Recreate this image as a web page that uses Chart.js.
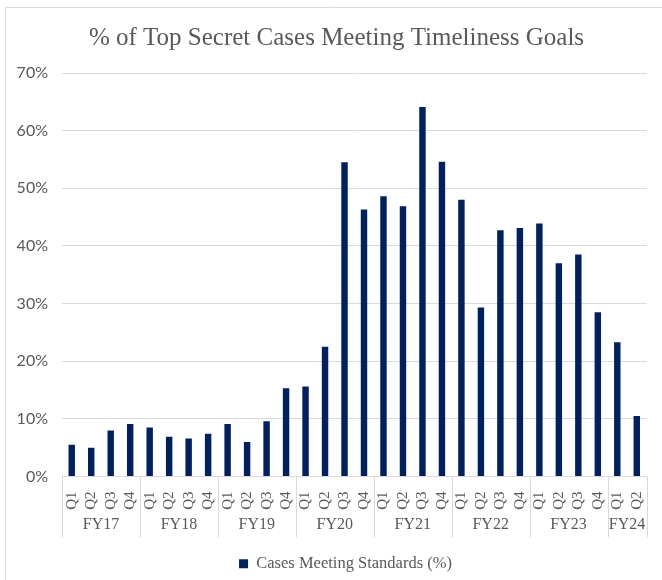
<!DOCTYPE html>
<html><head><meta charset="utf-8">
<script src="https://cdn.jsdelivr.net/npm/chart.js@4.4.1/dist/chart.umd.min.js"></script>
<style>html,body{margin:0;padding:0;background:#fff;} #wrap{position:relative;width:662px;height:580px;}</style>
</head><body><div id="wrap"><canvas id="c" width="662" height="580"></canvas></div>
<script>
const fiscalYears = ['FY17','FY18','FY19','FY20','FY21','FY22','FY23','FY24'];
const quartersPerYear = [4,4,4,4,4,4,4,2];
const quarterNames = ['Q1','Q2','Q3','Q4'];
const values = [5.5,5.0,8.0,9.1, 8.5,6.9,6.6,7.4, 9.1,6.0,9.6,15.3, 15.6,22.5,54.5,46.3,
                48.6,46.9,64.1,54.6, 48.0,29.3,42.7,43.1, 43.9,37.0,38.5,28.5, 23.3,10.5];
const yTicks = [0,10,20,30,40,50,60,70];
const seriesName = 'Cases Meeting Standards (%)';
const titleText = '% of Top Secret Cases Meeting Timeliness Goals';

const labels = [];
quartersPerYear.forEach(n => { for (let i = 0; i < n; i++) labels.push(quarterNames[i]); });

const GRID = '#d9d9d9';
const TEXT = '#595959';
const SERIF = "'Liberation Serif', 'DejaVu Serif', serif";

const groupAxis = {
  id: 'groupAxis',
  afterLayout(chart) {
    const lg = chart.legend;
    if (lg) { lg.left += 21; lg.right += 21; lg.top += 2; lg.bottom += 2; }
  },
  afterDraw(chart) {
    const { ctx, scales: { x }, chartArea } = chart;
    const step = x.getPixelForValue(1) - x.getPixelForValue(0);
    const top = chartArea.bottom, bottom = top + 61;
    ctx.save();
    ctx.fillStyle = TEXT; ctx.textAlign = 'center'; ctx.textBaseline = 'middle';
    ctx.font = "25px " + SERIF;
    ctx.fillText(titleText, 336.5, 38.5);
    ctx.strokeStyle = GRID; ctx.lineWidth = 1;
    const line = px => { const p = Math.round(px) + 0.5; ctx.beginPath(); ctx.moveTo(p, top); ctx.lineTo(p, bottom); ctx.stroke(); };
    line(x.getPixelForValue(0) - step / 2);
    ctx.font = "16px " + SERIF;
    let idx = 0;
    fiscalYears.forEach((fy, i) => {
      const n = quartersPerYear[i];
      const left = x.getPixelForValue(idx) - step / 2;
      const right = x.getPixelForValue(idx + n - 1) + step / 2;
      line(right);
      ctx.fillText(fy, (left + right) / 2, top + 48);
      idx += n;
    });
    ctx.beginPath();
    ctx.moveTo(5.5, 580); ctx.lineTo(5.5, 7.5); ctx.lineTo(662, 7.5);
    ctx.stroke();
    ctx.restore();
  }
};

new Chart(document.getElementById('c'), {
  type: 'bar',
  data: {
    labels,
    datasets: [{ label: seriesName, data: values, backgroundColor: '#002060', barPercentage: 0.33, categoryPercentage: 1 }]
  },
  options: {
    responsive: false, animation: false,
    layout: { padding: { left: 0, right: 13, top: 73, bottom: 0 } },
    plugins: {
      title: { display: false },
      legend: { position: 'bottom', labels: { boxWidth: 9, boxHeight: 9, color: TEXT, font: { family: SERIF, size: 16.5 }, padding: 10 } },
      tooltip: { enabled: false }
    },
    scales: {
      x: {
        grid: { display: false }, border: { display: true, color: GRID },
        ticks: { minRotation: 90, maxRotation: 90, autoSkip: false, color: TEXT, font: { family: SERIF, size: 15 }, padding: 7 },
        afterFit(s) { s.height = 67; }
      },
      y: {
        min: 0, max: 70,
        afterBuildTicks(s) { s.ticks = yTicks.map(v => ({ value: v })); },
        ticks: { callback: v => v + '%', color: TEXT, font: { family: 'Lato', size: 16 }, padding: 14 },
        grid: { color: GRID, drawTicks: false }, border: { display: false },
        afterFit(s) { s.width = 62; }
      }
    }
  },
  plugins: [groupAxis]
});
</script></body></html>
